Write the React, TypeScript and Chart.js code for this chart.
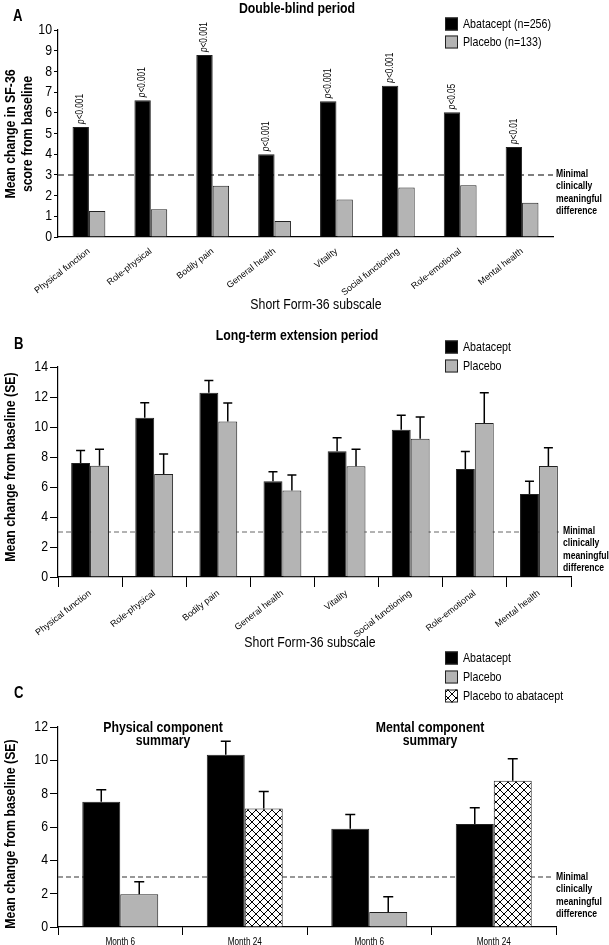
import React, { useEffect, useRef } from "react";
import { Chart, registerables } from "chart.js";

Chart.register(...registerables);

const FONT = '"Liberation Sans", Arial, sans-serif';
const SX = 0.82; // horizontal condensing, to mimic the condensed typeface of the original
const GRAY = "#b4b4b4";

// ---- Panel A: double-blind period ----
const subscales = [
  "Physical function",
  "Role-physical",
  "Bodily pain",
  "General health",
  "Vitality",
  "Social functioning",
  "Role-emotional",
  "Mental health",
];
const dbAbatacept = [5.32, 6.61, 8.79, 4.0, 6.56, 7.31, 6.03, 4.35];
const dbPlacebo = [1.26, 1.34, 2.47, 0.77, 1.81, 2.39, 2.5, 1.66];
const dbPValues = ["<0.001", "<0.001", "<0.001", "<0.001", "<0.001", "<0.001", "<0.05", "<0.01"];
const dbTicks = { min: 0, max: 10, step: 1 };

// ---- Panel B: long-term extension ----
const ltAbatacept = [7.6, 10.62, 12.29, 6.38, 8.38, 9.82, 7.2, 5.53];
const ltAbataceptSE = [0.84, 1.0, 0.81, 0.64, 0.91, 0.96, 1.16, 0.85];
const ltPlacebo = [7.42, 6.87, 10.36, 5.76, 7.38, 9.22, 10.27, 7.4];
const ltPlaceboSE = [1.09, 1.33, 1.24, 1.04, 1.13, 1.45, 2.02, 1.22];
const ltTicks = { min: 0, max: 14, step: 2 };

// ---- Panel C: component summaries ----
const summaryLabels = ["Month 6", "Month 24", "Month 6", "Month 24"];
const sumAbatacept = [7.51, 10.34, 5.9, 6.18];
const sumAbataceptSE = [0.72, 0.8, 0.85, 0.97];
const sumPlacebo = [1.97, null, 0.9, null];
const sumPlaceboSE = [0.74, null, 0.91, null];
const sumSwitch = [null, 7.11, null, 8.77];
const sumSwitchSE = [null, 1.02, null, 1.33];
const sumTicks = { min: 0, max: 12, step: 2 };

const MCID = 3;
const mcidLines = ["Minimal", "clinically", "meaningful", "difference"];

// ---------- helpers ----------
// Condense axis-aligned text (horizontal or vertical) to mimic the narrow typeface.
const condensePlugin = {
  id: "condense",
  beforeInit(chart: any) {
    const ctx: any = chart.ctx;
    if (ctx.__condensed) return;
    const orig = ctx.fillText;
    ctx.fillText = function (t: string, x: number, y: number, maxW?: number) {
      const m = this.getTransform();
      const oblique = Math.abs(m.a) > 1e-3 && Math.abs(m.b) > 1e-3;
      if (oblique) {
        if (maxW !== undefined) orig.call(this, t, x, y, maxW);
        else orig.call(this, t, x, y);
        return;
      }
      this.save();
      this.translate(x, y);
      this.scale(SX, 1);
      if (maxW !== undefined) orig.call(this, t, 0, 0, maxW / SX);
      else orig.call(this, t, 0, 0);
      this.restore();
    };
    ctx.__condensed = true;
  },
};

function makeHatch(): CanvasPattern | string {
  const s = 8;
  const c = document.createElement("canvas");
  c.width = s;
  c.height = s;
  const g = c.getContext("2d");
  if (!g) return "#fff";
  g.fillStyle = "#fff";
  g.fillRect(0, 0, s, s);
  g.strokeStyle = "#000";
  g.lineWidth = 1;
  for (const k of [-s, 0, s]) {
    g.beginPath();
    g.moveTo(k, 0);
    g.lineTo(k + s, s);
    g.stroke();
    g.beginPath();
    g.moveTo(k + s, 0);
    g.lineTo(k, s);
    g.stroke();
  }
  return g.createPattern(c, "repeat") || "#fff";
}

function text(
  ctx: CanvasRenderingContext2D,
  str: string,
  x: number,
  y: number,
  font: string,
  align: CanvasTextAlign = "left"
) {
  ctx.save();
  ctx.font = font;
  ctx.fillStyle = "#000";
  ctx.textAlign = align;
  ctx.textBaseline = "middle";
  ctx.fillText(str, x, y);
  ctx.restore();
}

function vText(ctx: CanvasRenderingContext2D, str: string, x: number, y: number, font: string) {
  ctx.save();
  ctx.translate(x, y);
  ctx.rotate(-Math.PI / 2);
  ctx.font = font;
  ctx.fillStyle = "#000";
  ctx.textAlign = "center";
  ctx.textBaseline = "middle";
  ctx.fillText(str, 0, 0);
  ctx.restore();
}

function legendItem(
  ctx: CanvasRenderingContext2D,
  x: number,
  y: number,
  fill: string | CanvasPattern,
  label: string
) {
  ctx.save();
  ctx.fillStyle = fill as any;
  ctx.fillRect(x, y - 6.5, 13, 13);
  ctx.strokeStyle = "#222";
  ctx.lineWidth = 1;
  ctx.strokeRect(x + 0.5, y - 6, 12, 12);
  ctx.restore();
  text(ctx, label, x + 18, y, `13px ${FONT}`);
}

function mcidLine(chart: any, xEnd: number, dash: number[], color: string, width: number) {
  const ctx: CanvasRenderingContext2D = chart.ctx;
  const y = chart.scales.y.getPixelForValue(MCID);
  ctx.save();
  ctx.strokeStyle = color;
  ctx.lineWidth = width;
  ctx.setLineDash(dash);
  ctx.beginPath();
  ctx.moveTo(chart.chartArea.left, y);
  ctx.lineTo(xEnd, y);
  ctx.stroke();
  ctx.restore();
}

function mcidLabel(ctx: CanvasRenderingContext2D, x: number, y0: number) {
  mcidLines.forEach((l, i) => text(ctx, l, x, y0 + i * 12.5, `bold 10.5px ${FONT}`));
}

function errorBars(chart: any, dsIndex: number, se: (number | null)[], cap: number) {
  const ctx: CanvasRenderingContext2D = chart.ctx;
  const meta = chart.getDatasetMeta(dsIndex);
  const values = chart.data.datasets[dsIndex].data as (number | null)[];
  const yScale = chart.scales.y;
  ctx.save();
  ctx.strokeStyle = "#000";
  ctx.lineWidth = 1.5;
  meta.data.forEach((bar: any, i: number) => {
    const v = values[i];
    const e = se[i];
    if (v == null || e == null) return;
    const x = bar.x;
    const y0 = yScale.getPixelForValue(v);
    const y1 = yScale.getPixelForValue(v + e);
    ctx.beginPath();
    ctx.moveTo(x, y0);
    ctx.lineTo(x, y1);
    ctx.moveTo(x - cap / 2, y1);
    ctx.lineTo(x + cap / 2, y1);
    ctx.stroke();
  });
  ctx.restore();
}

function yScale(t: { min: number; max: number; step: number }, tickLen: number) {
  return {
    min: t.min,
    max: t.max,
    ticks: { stepSize: t.step, autoSkip: false, color: "#000", font: { family: FONT, size: 15 }, padding: 2 },
    grid: { drawOnChartArea: false, tickLength: tickLen, color: "#000", lineWidth: 1 },
    border: { display: true, color: "#000", width: 1.2 },
    afterFit: (s: any) => {
      s.width = 58;
    },
  };
}

function xScale(height: number, rotated: boolean, showTicks: boolean, tickLen: number) {
  return {
    ticks: {
      color: "#000",
      font: { family: FONT, size: rotated ? 9 : 10 },
      minRotation: rotated ? 38 : 0,
      maxRotation: rotated ? 38 : 0,
      autoSkip: false,
      padding: rotated ? 1 : 1,
    },
    grid: {
      drawOnChartArea: false,
      offset: true,
      tickLength: tickLen,
      color: showTicks ? "#000" : "rgba(0,0,0,0)",
      lineWidth: 1,
    },
    border: { display: true, color: "#000", width: 1.2 },
    afterFit: (s: any) => {
      s.height = height;
    },
  };
}

const barBase = { borderColor: "#222", borderWidth: 1, barPercentage: 1 };

// ---------- chart configs ----------
function configA(): any {
  return {
    type: "bar",
    data: {
      labels: subscales,
      datasets: [
        { label: "Abatacept (n=256)", data: dbAbatacept, backgroundColor: "#000", categoryPercentage: 0.53, ...barBase },
        { label: "Placebo (n=133)", data: dbPlacebo, backgroundColor: GRAY, categoryPercentage: 0.53, ...barBase },
      ],
    },
    options: {
      responsive: false,
      animation: false,
      layout: { padding: { left: 0, right: 56, top: 30, bottom: 0 } },
      plugins: { legend: { display: false }, tooltip: { enabled: false } },
      scales: { x: xScale(75, true, false, 8), y: yScale(dbTicks, 4) },
    },
    plugins: [
      condensePlugin,
      {
        id: "panelA",
        beforeDatasetsDraw(chart: any) {
          mcidLine(chart, chart.chartArea.right, [6, 4], "#555", 1.5);
        },
        afterDatasetsDraw(chart: any) {
          const ctx: CanvasRenderingContext2D = chart.ctx;
          const meta = chart.getDatasetMeta(0);
          meta.data.forEach((bar: any, i: number) => {
            ctx.save();
            ctx.translate(bar.x, bar.y - 3);
            ctx.rotate(-Math.PI / 2);
            ctx.textAlign = "left";
            ctx.textBaseline = "middle";
            ctx.fillStyle = "#000";
            ctx.font = `italic 10px ${FONT}`;
            ctx.fillText("p", 0, 0);
            const w = ctx.measureText("p").width * SX;
            ctx.font = `10px ${FONT}`;
            ctx.fillText(dbPValues[i], w, 0);
            ctx.restore();
          });
        },
        afterDraw(chart: any) {
          const ctx: CanvasRenderingContext2D = chart.ctx;
          text(ctx, "A", 13, 17, `bold 16px ${FONT}`);
          text(ctx, "Double-blind period", 297, 9, `bold 15px ${FONT}`, "center");
          legendItem(ctx, 445, 24, "#000", "Abatacept (n=256)");
          legendItem(ctx, 445, 42, GRAY, "Placebo (n=133)");
          mcidLabel(ctx, 556, 174);
          text(ctx, "Short Form-36 subscale", 316, 305, `15px ${FONT}`, "center");
          vText(ctx, "Mean change in SF-36", 11, 134, `bold 15px ${FONT}`);
          vText(ctx, "score from baseline", 28, 134, `bold 15px ${FONT}`);
        },
      },
    ],
  };
}

function configB(): any {
  return {
    type: "bar",
    data: {
      labels: subscales,
      datasets: [
        { label: "Abatacept", data: ltAbatacept, backgroundColor: "#000", categoryPercentage: 0.59, ...barBase },
        { label: "Placebo", data: ltPlacebo, backgroundColor: GRAY, categoryPercentage: 0.59, ...barBase },
      ],
    },
    options: {
      responsive: false,
      animation: false,
      layout: { padding: { left: 0, right: 38, top: 55, bottom: 0 } },
      plugins: { legend: { display: false }, tooltip: { enabled: false } },
      scales: { x: xScale(73, true, true, 10), y: yScale(ltTicks, 8) },
    },
    plugins: [
      condensePlugin,
      {
        id: "panelB",
        beforeDatasetsDraw(chart: any) {
          mcidLine(chart, 560, [5, 3], "#666", 1);
        },
        afterDatasetsDraw(chart: any) {
          errorBars(chart, 0, ltAbataceptSE, 9);
          errorBars(chart, 1, ltPlaceboSE, 9);
        },
        afterDraw(chart: any) {
          const ctx: CanvasRenderingContext2D = chart.ctx;
          text(ctx, "B", 14, 33, `bold 16px ${FONT}`);
          text(ctx, "Long-term extension period", 297, 24, `bold 15px ${FONT}`, "center");
          legendItem(ctx, 445, 35, "#000", "Abatacept");
          legendItem(ctx, 445, 54, GRAY, "Placebo");
          mcidLabel(ctx, 563, 219);
          text(ctx, "Short Form-36 subscale", 310, 331, `15px ${FONT}`, "center");
          vText(ctx, "Mean change from baseline (SE)", 11, 155, `bold 15px ${FONT}`);
        },
      },
    ],
  };
}

function configC(): any {
  const hatch = makeHatch();
  return {
    type: "bar",
    data: {
      labels: summaryLabels,
      datasets: [
        { label: "Abatacept", data: sumAbatacept, backgroundColor: "#000", categoryPercentage: 0.61, skipNull: true, ...barBase },
        { label: "Placebo", data: sumPlacebo, backgroundColor: GRAY, categoryPercentage: 0.61, skipNull: true, ...barBase },
        { label: "Placebo to abatacept", data: sumSwitch, backgroundColor: hatch, categoryPercentage: 0.61, skipNull: true, ...barBase },
      ],
    },
    options: {
      responsive: false,
      animation: false,
      layout: { padding: { left: 0, right: 53, top: 77, bottom: 0 } },
      plugins: { legend: { display: false }, tooltip: { enabled: false } },
      scales: { x: xScale(18, false, true, 8), y: yScale(sumTicks, 8) },
    },
    plugins: [
      condensePlugin,
      {
        id: "panelC",
        beforeDatasetsDraw(chart: any) {
          mcidLine(chart, 553, [5, 3], "#777", 1.3);
        },
        afterDatasetsDraw(chart: any) {
          errorBars(chart, 0, sumAbataceptSE, 10);
          errorBars(chart, 1, sumPlaceboSE, 10);
          errorBars(chart, 2, sumSwitchSE, 10);
        },
        afterDraw(chart: any) {
          const ctx: CanvasRenderingContext2D = chart.ctx;
          text(ctx, "C", 14, 44, `bold 16px ${FONT}`);
          legendItem(ctx, 445, 8, "#000", "Abatacept");
          legendItem(ctx, 445, 27, GRAY, "Placebo");
          legendItem(ctx, 445, 46, hatch, "Placebo to abatacept");
          text(ctx, "Physical component", 163, 78, `bold 15px ${FONT}`, "center");
          text(ctx, "summary", 163, 91, `bold 15px ${FONT}`, "center");
          text(ctx, "Mental component", 430, 78, `bold 15px ${FONT}`, "center");
          text(ctx, "summary", 430, 91, `bold 15px ${FONT}`, "center");
          mcidLabel(ctx, 556, 227);
          vText(ctx, "Mean change from baseline (SE)", 11, 184, `bold 15px ${FONT}`);
        },
      },
    ],
  };
}

function ChartPanel({ top, height, build }: { top: number; height: number; build: () => any }) {
  const ref = useRef<HTMLCanvasElement>(null);
  useEffect(() => {
    if (!ref.current) return;
    const chart = new Chart(ref.current, build());
    return () => chart.destroy();
  }, [build]);
  return (
    <canvas
      ref={ref}
      width={609}
      height={height}
      style={{ position: "absolute", left: 0, top, width: 609, height, display: "block" }}
    />
  );
}

export default function App() {
  return (
    <div style={{ position: "absolute", left: 0, top: 0, width: 609, height: 945, background: "#fff", overflow: "hidden" }}>
      <ChartPanel top={0} height={312} build={configA} />
      <ChartPanel top={312} height={338} build={configB} />
      <ChartPanel top={650} height={295} build={configC} />
    </div>
  );
}
